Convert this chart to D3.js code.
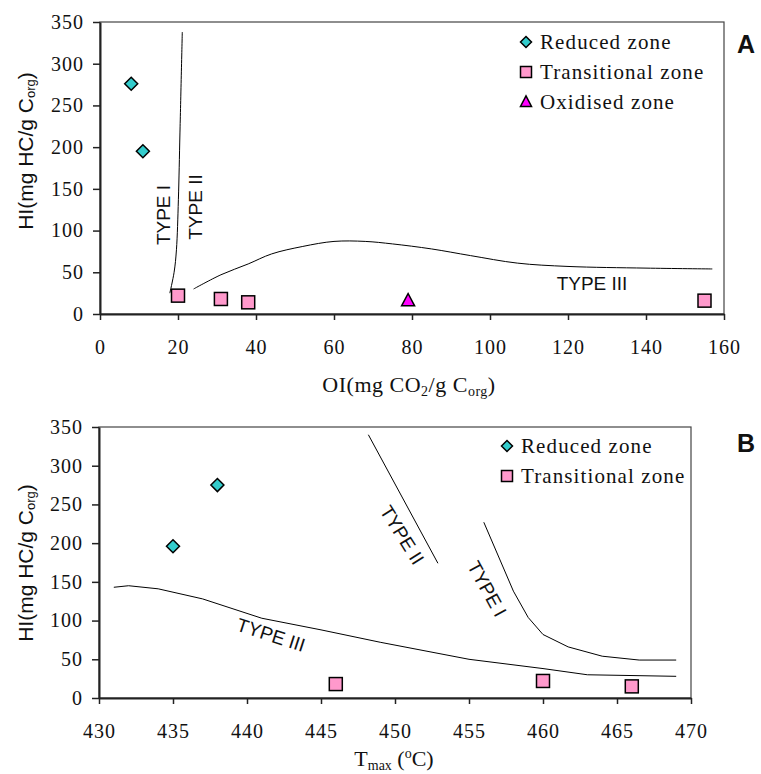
<!DOCTYPE html>
<html><head><meta charset="utf-8">
<script src="https://cdn.jsdelivr.net/npm/d3@7"></script>
<style>body{margin:0;background:#fff}svg{display:block}</style>
</head><body><svg id="c" width="761" height="774"></svg>
<script>
// ---- Chart A data (OI vs HI)
const aReducedOI = [8, 11];
const aReducedHI = [276, 195];
const aTransOI = [20, 31, 38, 155];
const aTransHI = [22, 18, 14, 16];
const aOxidOI = [79];
const aOxidHI = [16];
const aType12OI = [17.9, 19.0, 19.6, 20.1, 20.5, 21.1];
const aType12HI = [25, 50, 77, 137, 217, 338];
const aType3OI = [24, 31, 38, 44, 52, 60, 68, 75, 85, 95, 107, 120, 140, 157];
const aType3HI = [30, 47, 60, 72, 81, 87, 87, 84, 78, 70, 61, 57, 55, 54];
const aXTicks = [0, 20, 40, 60, 80, 100, 120, 140, 160];
const yTicks = [0, 50, 100, 150, 200, 250, 300, 350];
// ---- Chart B data (Tmax vs HI)
const bReducedT = [435, 438];
const bReducedHI = [196, 275];
const bTransT = [446, 460, 466];
const bTransHI = [18, 22, 15];
const bType3T = [431, 432, 434, 437, 441, 445, 449, 455, 460, 463, 469];
const bType3HI = [143, 145, 141, 128, 103, 88, 72, 50, 38, 30, 28];
const bType1T = [456, 458, 459, 460, 461.7, 464, 466.5, 469];
const bType1HI = [227, 138, 104, 82, 66, 54, 49, 49];
const bType2T = [448.2, 452.9];
const bType2HI = [340, 174];
const bXTicks = [430, 435, 440, 445, 450, 455, 460, 465, 470];
const legendA = ["Reduced zone", "Transitional zone", "Oxidised zone"];
const legendB = ["Reduced zone", "Transitional zone"];

const svg = d3.select("#c");
const SERIF = "'Liberation Serif', 'Times New Roman', serif";
const SANS = "'Liberation Sans', Arial, sans-serif";
const C_RED = "#33CCCC", C_TR = "#FF99CC", C_OX = "#FF00FF";

const zip = (xs, ys) => xs.map((x, i) => [x, ys[i]]);

function marker(g, kind, x, y, s) {
  let p;
  if (kind === "diamond") p = g.append("path").attr("d", `M${x},${y - s}L${x + s},${y}L${x},${y + s}L${x - s},${y}Z`).attr("fill", C_RED);
  else if (kind === "square") p = g.append("rect").attr("x", x - s).attr("y", y - s).attr("width", 2 * s).attr("height", 2 * s).attr("fill", C_TR);
  else p = g.append("path").attr("d", `M${x},${y - s * 1.1}L${x + s},${y + s * 0.8}L${x - s},${y + s * 0.8}Z`).attr("fill", C_OX);
  p.attr("stroke", "#000").attr("stroke-width", 1.5);
}

function panel(cfg) {
  const g = svg.append("g");
  const x = d3.scaleLinear().domain(cfg.xdom).range([cfg.l, cfg.r]);
  const y = d3.scaleLinear().domain([0, 350]).range([cfg.b, cfg.t]);
  g.append("rect").attr("x", cfg.l).attr("y", cfg.t).attr("width", cfg.r - cfg.l).attr("height", cfg.b - cfg.t)
    .attr("fill", "none").attr("stroke", "#444").attr("stroke-width", 1.2);
  const xa = g.append("g").attr("transform", `translate(0,${cfg.b})`)
    .call(d3.axisBottom(x).tickValues(cfg.xticks).tickSize(6).tickSizeOuter(0).tickPadding(20));
  const ya = g.append("g").attr("transform", `translate(${cfg.l},0)`)
    .call(d3.axisLeft(y).tickValues(yTicks).tickSize(7).tickSizeOuter(0).tickPadding(9));
  [xa, ya].forEach(a => {
    a.attr("font-family", null).attr("font-size", null);
    a.select(".domain").attr("stroke", "#222").attr("stroke-width", 2);
    a.selectAll(".tick line").attr("stroke", "#222").attr("stroke-width", 1.5);
    a.selectAll("text").style("font-family", SERIF).style("font-size", "20px").attr("fill", "#111").style("letter-spacing", "1px");
  });
  const line = d3.line().x(d => x(d[0])).y(d => y(d[1]));
  cfg.curves.forEach(c => {
    g.append("path").datum(zip(c.xs, c.ys)).attr("d", line.curve(c.curve)).attr("fill", "none")
      .attr("stroke", "#000").attr("stroke-width", 1);
  });
  cfg.series.forEach(s => {
    zip(s.xs, s.ys).forEach(d => marker(g, s.kind, x(d[0]), y(d[1]), 6.5));
  });
  cfg.labels.forEach(lb => {
    g.append("text").attr("transform", `translate(${lb.x},${lb.y}) rotate(${lb.rot})`)
      .attr("text-anchor", "middle").attr("dominant-baseline", "central")
      .style("font-family", SANS).style("font-size", "19px").attr("fill", "#111").text(lb.text);
  });
  cfg.legend.forEach((t, i) => {
    const ly = cfg.legY + i * 30;
    marker(g, cfg.legKinds[i], cfg.legX, ly, 5.5);
    g.append("text").attr("x", cfg.legX + 14).attr("y", ly + 7).style("font-family", SERIF).style("font-size", "21px")
      .style("letter-spacing", "1.1px").attr("fill", "#111").text(t);
  });
  const yt = g.append("text").attr("transform", `translate(${cfg.ytx},${cfg.yty}) rotate(-90)`)
    .attr("text-anchor", "middle").attr("dominant-baseline", "central")
    .style("font-family", SANS).style("font-size", "21px").attr("fill", "#111");
  yt.append("tspan").text("HI(mg HC/g C");
  yt.append("tspan").style("font-size", "13px").attr("dy", 5).text("org");
  yt.append("tspan").attr("dy", -5).text(")");
  g.append("text").attr("x", cfg.letX).attr("y", cfg.letY).style("font-family", SANS).style("font-weight", "bold")
    .style("font-size", "25px").attr("fill", "#111").text(cfg.letter);
  return g;
}

const gA = panel({
  xdom: [0, 160], l: 100, r: 724, t: 22, b: 314, xticks: aXTicks,
  curves: [
    { xs: aType12OI, ys: aType12HI, curve: d3.curveCatmullRom },
    { xs: aType3OI, ys: aType3HI, curve: d3.curveCatmullRom }
  ],
  series: [
    { kind: "diamond", xs: aReducedOI, ys: aReducedHI },
    { kind: "square", xs: aTransOI, ys: aTransHI },
    { kind: "triangle", xs: aOxidOI, ys: aOxidHI }
  ],
  labels: [
    { text: "TYPE I", x: 163, y: 215, rot: -90 },
    { text: "TYPE II", x: 195, y: 207, rot: -90 },
    { text: "TYPE III", x: 592, y: 283, rot: 0 }
  ],
  legend: legendA, legKinds: ["diamond", "square", "triangle"], legX: 526, legY: 42,
  ytx: 25, yty: 151, letter: "A", letX: 737, letY: 53
});
const tA = gA.append("text").attr("x", 409).attr("y", 392).attr("text-anchor", "middle")
  .style("font-family", SERIF).style("font-size", "22px").attr("fill", "#111").style("letter-spacing", "0.5px");
tA.append("tspan").text("OI(mg CO");
tA.append("tspan").style("font-size", "14px").attr("dy", 4).text("2");
tA.append("tspan").attr("dy", -4).text("/g C");
tA.append("tspan").style("font-size", "14px").attr("dy", 4).text("org");
tA.append("tspan").attr("dy", -4).text(")");

const gB = panel({
  xdom: [430, 470], l: 99, r: 691, t: 427, b: 698, xticks: bXTicks,
  curves: [
    { xs: bType3T, ys: bType3HI, curve: d3.curveLinear },
    { xs: bType1T, ys: bType1HI, curve: d3.curveLinear },
    { xs: bType2T, ys: bType2HI, curve: d3.curveLinear }
  ],
  series: [
    { kind: "diamond", xs: bReducedT, ys: bReducedHI },
    { kind: "square", xs: bTransT, ys: bTransHI }
  ],
  labels: [
    { text: "TYPE III", x: 271, y: 635, rot: 18 },
    { text: "TYPE II", x: 402, y: 535, rot: 58 },
    { text: "TYPE I", x: 487, y: 589, rot: 61 }
  ],
  legend: legendB, legKinds: ["diamond", "square"], legX: 507, legY: 446,
  ytx: 25, yty: 563, letter: "B", letX: 737, letY: 452
});
const tB = gB.append("text").attr("x", 394).attr("y", 766).attr("text-anchor", "middle")
  .style("font-family", SERIF).style("font-size", "22px").attr("fill", "#111");
tB.append("tspan").text("T");
tB.append("tspan").style("font-size", "14px").attr("dy", 4).text("max");
tB.append("tspan").attr("dy", -4).text(" (");
tB.append("tspan").style("font-size", "14px").attr("dy", -8).text("o");
tB.append("tspan").attr("dy", 8).text("C)");
</script></body></html>
